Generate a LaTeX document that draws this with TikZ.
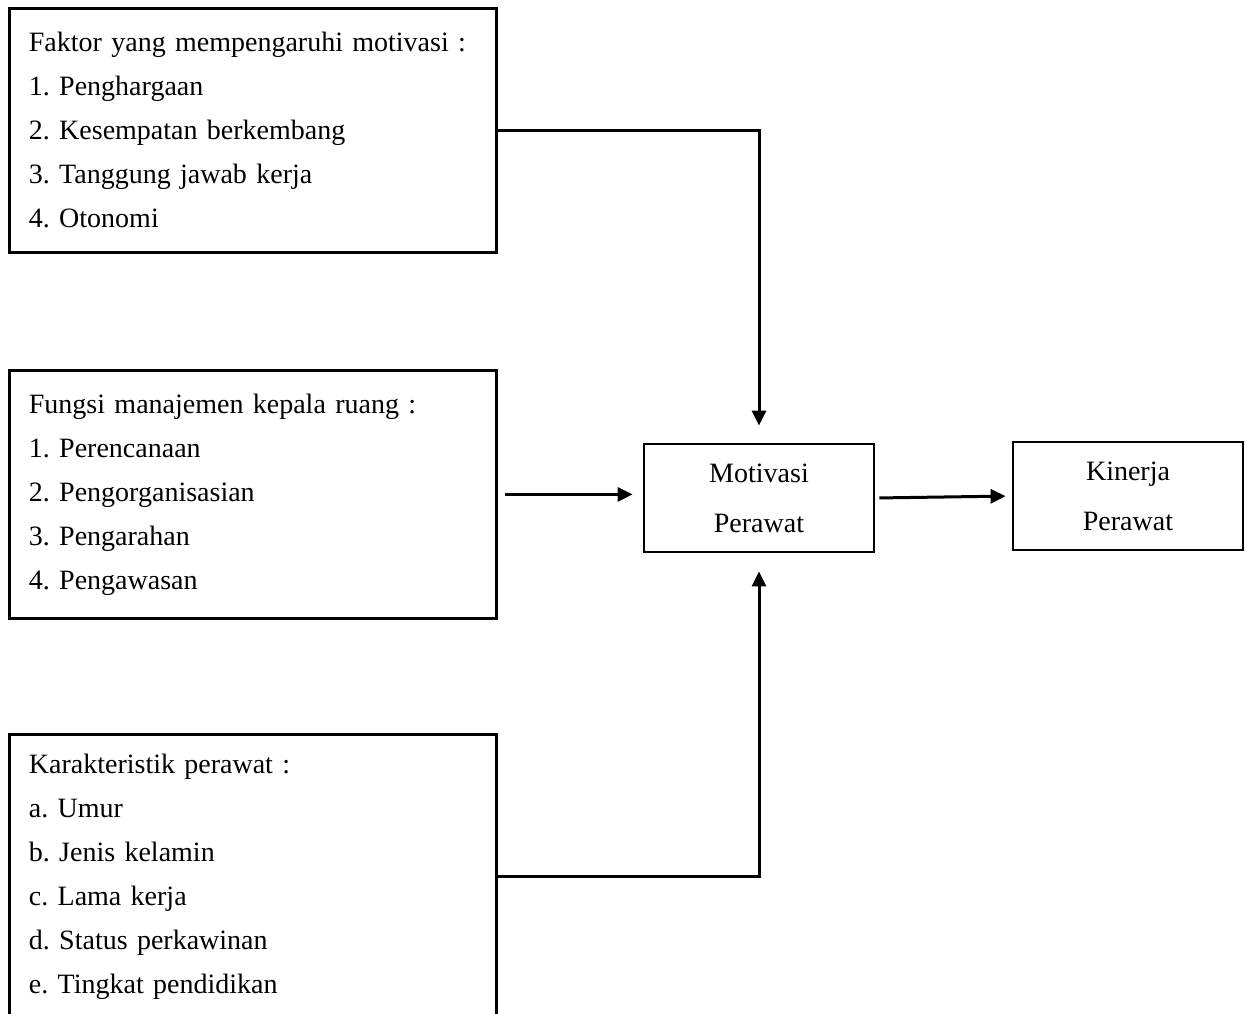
\documentclass[tikz,border=0pt]{standalone}
\usepackage{fontspec}
\setmainfont{Liberation Serif}
\usetikzlibrary{arrows.meta}

\begin{document}
\begin{tikzpicture}[x=0.5pt, y=-0.5pt,
		every node/.style = {draw, line width=1.4pt,
			font=\frenchspacing\fontsize{14pt}{22pt}\selectfont},
		listbox/.style = {anchor=north west, align=left,
			text width=224pt, inner xsep=9.75pt, inner ysep=0pt},
		varbox/.style = {align=center, minimum width=115pt, minimum height=54pt,
			font=\frenchspacing\fontsize{14pt}{25pt}\selectfont},
		arr/.style = {line width=1.5pt, -{Triangle[length=7.5pt,width=7pt]}}]
		\useasboundingbox (0,0) rectangle (1247,1013);
		\node[listbox, minimum height=122pt] (faktor) at (8,7)
			{Faktor yang mempengaruhi motivasi :\\1. Penghargaan\\2. Kesempatan berkembang\\3. Tanggung jawab kerja\\4. Otonomi};
		\node[listbox, minimum height=124pt] (fungsi) at (8,369)
			{Fungsi manajemen kepala ruang :\\1. Perencanaan\\2. Pengorganisasian\\3. Pengarahan\\4. Pengawasan};
		\node[listbox, minimum height=142.5pt] (karakter) at (8,733)
			{Karakteristik perawat :\\a. Umur\\b. Jenis kelamin\\c. Lama kerja\\d. Status perkawinan\\e. Tingkat pendidikan};
		\node[varbox] (motivasi) at (759,498) {Motivasi\\Perawat};
		\node[varbox] (kinerja) at (1128,496) {Kinerja\\Perawat};
		\draw[arr, shorten >=8.5pt] (faktor.east) -| (motivasi.north);
		\draw[arr, shorten <=3.5pt, shorten >=5pt] (fungsi.east) -- (fungsi.east -| motivasi.west);
		\draw[arr, shorten >=9pt] (karakter.east) -| (motivasi.south);
		\draw[arr, shorten <=2pt, shorten >=3pt] (motivasi.east) -- (kinerja.west);
	\end{tikzpicture}
\end{document}
